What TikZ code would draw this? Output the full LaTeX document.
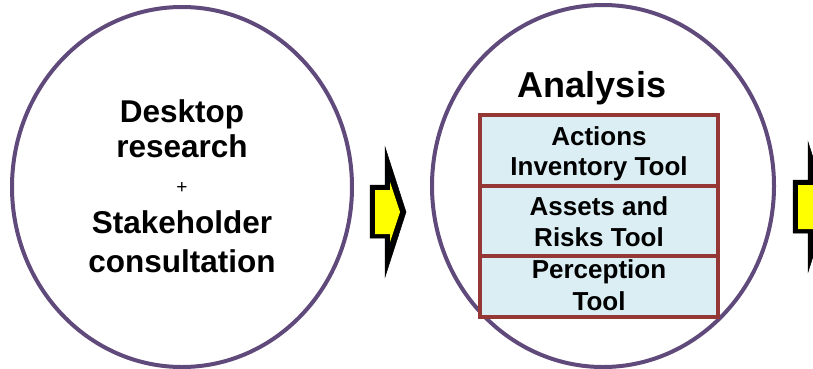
\documentclass[tikz,border=0pt]{standalone}
\usepackage{fontspec}
\setmainfont{Liberation Sans}
\usetikzlibrary{shapes.geometric}
\definecolor{ringpurple}{RGB}{96,74,123}
\definecolor{boxred}{RGB}{149,55,53}
\definecolor{boxfill}{RGB}{219,238,244}
\definecolor{arrowyellow}{RGB}{255,255,0}
\tikzset{
  ring/.style={ellipse, draw=ringpurple, line width=4pt, inner sep=0pt},
  toolbox/.style={rectangle, draw=boxred, fill=boxfill, line width=4pt, inner sep=0pt, minimum width=238pt},
  bigtext/.style={anchor=base, inner sep=0pt, font=\fontsize{31.5}{36}\selectfont\bfseries},
  titletext/.style={anchor=base, inner sep=0pt, font=\fontsize{36}{40}\selectfont\bfseries},
  tooltext/.style={anchor=base, inner sep=0pt, font=\fontsize{26}{30}\selectfont\bfseries},
  plustext/.style={anchor=base, inner sep=0pt, font=\fontsize{19}{22}\selectfont},
  arrowout/.style={fill=black, draw=black, line width=0.5pt, line join=miter},
  arrowin/.style={fill=arrowyellow},
}
\begin{document}
\begin{tikzpicture}[x=1pt,y=-1pt]
\clip (0,0) rectangle (813,368);
\fill[white] (0,0) rectangle (813,368);
% circles
\node[ring, minimum width=340pt, minimum height=360pt] (left) at (182,187) {};
\node[ring, minimum width=342pt, minimum height=362pt] (right) at (603,186) {};
% left texts
\node[bigtext] (t1) at (182,122) {Desktop};
\node[bigtext] (t2) at (182,157) {research};
\node[plustext] (tp) at (182,193) {+};
\node[bigtext] (t3) at (182,233) {Stakeholder};
\node[bigtext] (t4) at (182,272) {consultation};
% right title
\node[titletext] (title) at (592,97) {Analysis};
% tool boxes
\node[toolbox, minimum height=71pt] (b1) at (599,150.5) {};
\node[toolbox, minimum height=70pt] (b2) at (599,221) {};
\node[toolbox, minimum height=61pt] (b3) at (599,286.5) {};
\node[tooltext] (b1a) at (599,145) {Actions};
\node[tooltext] (b1b) at (599,175) {Inventory Tool};
\node[tooltext] (b2a) at (599,215) {Assets and};
\node[tooltext] (b2b) at (599,246) {Risks Tool};
\node[tooltext] (b3a) at (599,278) {Perception};
\node[tooltext] (b3b) at (599,310) {Tool};
% block arrows
\foreach \dx/\dy/\nm in {0/0/arrA, 423/-5/arrB}{
  \begin{scope}[shift={(\dx,\dy)}]
    \draw[arrowout] (370,185) -- (385,185) -- (385,147) -- (406,212) -- (385,277) -- (385,238) -- (370,238) -- cycle;
    \fill[arrowin] (375,190) -- (390,190) -- (390,182) -- (400,212) -- (390,242) -- (390,234) -- (375,234) -- cycle;
    \coordinate (\nm) at (388,212);
  \end{scope}
}
\end{tikzpicture}
\end{document}
